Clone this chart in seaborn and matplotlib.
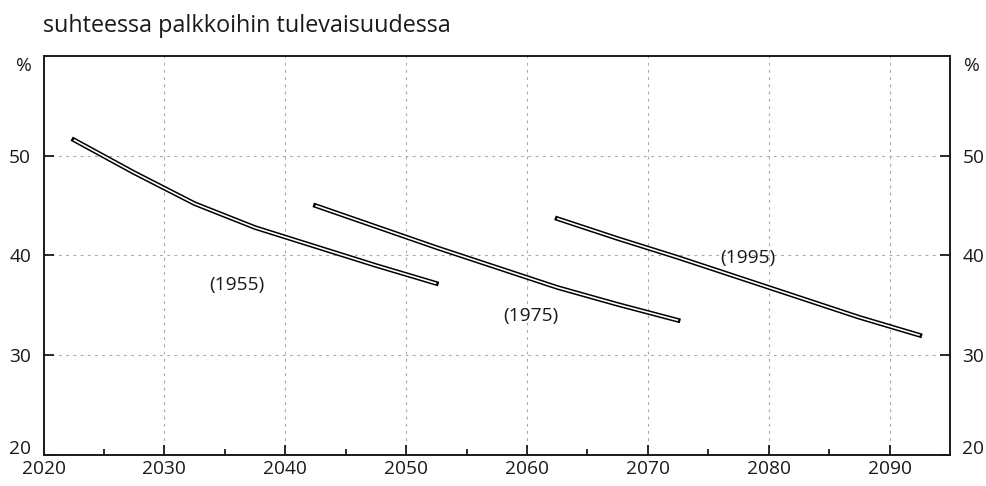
import numpy as np
import pandas as pd
import matplotlib
matplotlib.use("Agg")
import matplotlib.pyplot as plt
import matplotlib.patheffects as pe
import matplotlib.transforms as mtransforms
import seaborn as sns

# ---- data ----
years_1955 = [2022.5, 2027.5, 2032.5, 2037.5, 2042.5, 2047.5, 2052.5]
vals_1955 = [51.6, 48.3, 45.2, 42.8, 40.9, 39.0, 37.2]
years_1975 = [2042.5, 2047.5, 2052.5, 2057.5, 2062.5, 2067.5, 2072.5]
vals_1975 = [45.0, 42.9, 40.8, 38.8, 36.8, 35.1, 33.5]
years_1995 = [2062.5, 2067.5, 2072.5, 2077.5, 2082.5, 2087.5, 2092.5]
vals_1995 = [43.7, 41.7, 39.8, 37.8, 35.8, 33.8, 32.0]
cohorts = ["(1955)", "(1975)", "(1995)"]
label_x = [2036.0, 2060.3, 2078.3]
label_y = [37.0, 33.9, 39.7]
title = "suhteessa palkkoihin tulevaisuudessa"
yticks = [20, 30, 40, 50]
xticks = list(range(2020, 2091, 10))

df = pd.concat([
    pd.DataFrame({"year": years_1955, "value": vals_1955, "cohort": cohorts[0]}),
    pd.DataFrame({"year": years_1975, "value": vals_1975, "cohort": cohorts[1]}),
    pd.DataFrame({"year": years_1995, "value": vals_1995, "cohort": cohorts[2]}),
])

sns.set_theme(style="white")
plt.rcParams["font.family"] = ["Open Sans", "DejaVu Sans"]

fig = plt.figure(figsize=(9.87, 4.86), dpi=100)
ax = fig.add_axes([0.0441, 0.0638, 0.9184, 0.821])

sns.lineplot(data=df, x="year", y="value", hue="cohort", units="cohort",
             estimator=None, palette=["white"] * 3, legend=False, ax=ax,
             linewidth=1.2)
for ln in ax.get_lines():
    ln.set_solid_capstyle("butt")
    ln.set_path_effects([pe.Stroke(linewidth=3.4, foreground="black",
                                   capstyle="projecting"), pe.Normal()])

ax.set_xlim(2020, 2095)
ax.set_ylim(20, 60)
ax.set_xticks(xticks)
ax.set_xticks(list(range(2025, 2095, 10)), minor=True)
ax.set_yticks(yticks)
ax.set_xlabel("")
ax.set_ylabel("")

ax.grid(True, which="major", color="#a8a8a8", linestyle=(0, (2.5, 4)), linewidth=0.8)
ax.set_axisbelow(True)
for s in ax.spines.values():
    s.set_color("#1a1a1a")
    s.set_linewidth(1.4)
    s.set_visible(True)

fs = 13.8
ax.tick_params(axis="x", which="major", direction="in", length=7, width=1.3,
               color="#1a1a1a", labelsize=fs, pad=3.5, bottom=True)
ax.tick_params(axis="x", which="minor", direction="in", length=4, width=1.3,
               color="#1a1a1a", bottom=True)
ax.tick_params(axis="y", which="major", direction="in", length=7, width=1.3,
               color="#1a1a1a", labelsize=fs, pad=9, left=True, right=True,
               labelleft=True, labelright=True)
for lab in ax.get_xticklabels() + ax.get_yticklabels():
    lab.set_color("#1a1a1a")

# lift the lowest y labels slightly so they clear the x labels
shift = mtransforms.ScaledTranslation(0, 6 / 72, fig.dpi_scale_trans)
first = ax.yaxis.get_major_ticks()[0]
for lab in (first.label1, first.label2):
    lab.set_transform(lab.get_transform() + shift)

ax.text(-0.013, 59.0, "%", transform=ax.get_yaxis_transform(), ha="right",
        va="center", fontsize=fs, color="#1a1a1a")
ax.text(1.016, 59.0, "%", transform=ax.get_yaxis_transform(), ha="left",
        va="center", fontsize=fs, color="#1a1a1a")

for c, lx, ly in zip(cohorts, label_x, label_y):
    ax.text(lx, ly, c, ha="center", va="center", fontsize=fs, color="#1a1a1a")

fig.text(43 / 987, 1 - 26 / 486, title, ha="left", va="center", fontsize=16.8,
         color="#1a1a1a")

fig.savefig("out.png", dpi=100)
